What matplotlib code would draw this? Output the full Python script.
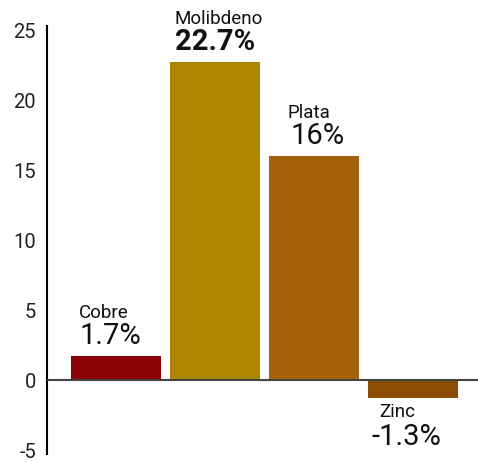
#!/usr/bin/env python3
import matplotlib as mpl
mpl.use('Agg')
import matplotlib.pyplot as plt

# ========================================================================
# Data
# ========================================================================
metals = ['Cobre', 'Molibdeno', 'Plata', 'Zinc']
changes = [1.7, 22.7, 16, -1.3]
value_labels = ['1.7%', '22.7%', '16%', '-1.3%']
bold_label = [False, True, False, False]
colors = ['#8A0004', '#AD8500', '#A5620B', '#8B4C04']
yticks = [-5, 0, 5, 10, 15, 20, 25]

# small horizontal nudges of the labels (pixels)
name_dx = [-12, 4, -5, -16]
value_dx = [-6, 0, 4, -7]

plt.rcParams['font.family'] = ['Roboto', 'DejaVu Sans']
plt.rcParams['axes.unicode_minus'] = False

# ========================================================================
# Plot
# ========================================================================
fig = plt.figure(figsize=(4.78, 4.64), dpi=100)
ax = fig.add_axes([47 / 478, 13 / 464, 1 - 47 / 478, 420 / 464])

x = list(range(len(metals)))
ax.bar(x, changes, width=0.91, color=colors, zorder=2)
ax.axhline(0, color='#444444', lw=1.5, zorder=3)

px = 0.72
for i, (xi, v) in enumerate(zip(x, changes)):
    w = 'bold' if bold_label[i] else 'normal'
    if v >= 0:
        ax.annotate(value_labels[i], (xi, v), xytext=(value_dx[i] * px, 15),
                    textcoords='offset points', ha='center', va='center',
                    fontsize=21, fontweight=w, color='#111111')
        ax.annotate(metals[i], (xi, v), xytext=(name_dx[i] * px, 32),
                    textcoords='offset points', ha='center', va='center',
                    fontsize=13.5, color='#111111')
    else:
        ax.annotate(metals[i], (xi, v), xytext=(name_dx[i] * px, -9),
                    textcoords='offset points', ha='center', va='center',
                    fontsize=13.5, color='#111111')
        ax.annotate(value_labels[i], (xi, v), xytext=(value_dx[i] * px, -27),
                    textcoords='offset points', ha='center', va='center',
                    fontsize=21, fontweight=w, color='#111111')

ax.set_xlim(-0.697, 3.657)
ax.set_ylim(-5, 25)
ax.set_yticks(yticks)
ax.set_xticks([])
ax.tick_params(axis='y', length=0, pad=8, labelsize=14.5, labelcolor='#222222')
for s in ['top', 'right', 'bottom']:
    ax.spines[s].set_visible(False)
ax.spines['left'].set_linewidth(1.5)
ax.spines['left'].set_bounds(-5.3, 25.3)

plt.savefig('out.png', format='png', dpi=100)
